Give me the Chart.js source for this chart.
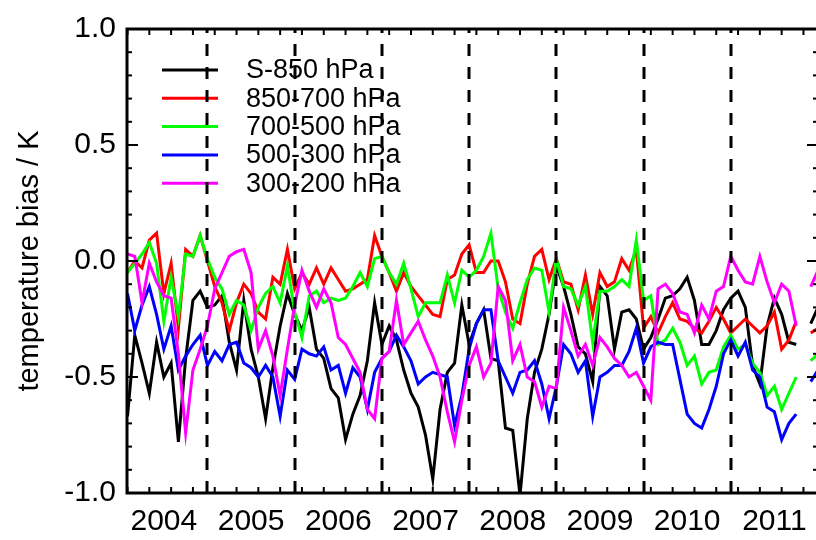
<!DOCTYPE html>
<html>
<head>
<meta charset="utf-8">
<script src="https://cdn.jsdelivr.net/npm/chart.js@4.4.1/dist/chart.umd.min.js"></script>
<style>
  html, body { margin: 0; padding: 0; overflow: hidden; background: #fff; }
  #wrap { width: 820px; height: 540px; }
</style>
</head>
<body>
<div id="wrap"><canvas id="bias-chart" width="820" height="540"></canvas></div>
<script>
// monthly temperature bias, one value per month from early 2004 (null = missing month)
const seriesLabels = ['S-850 hPa', '850-700 hPa', '700-500 hPa', '500-300 hPa', '300-200 hPa'];
const seriesColors = ['#000000', '#ff0000', '#00ff00', '#0000ff', '#ff00ff'];
const yearLabels = ['2004', '2005', '2006', '2007', '2008', '2009', '2010', '2011'];
const yearBreaks = [2005, 2006, 2007, 2008, 2009, 2010, 2011];
const yTickValues = [-1.0, -0.5, 0.0, 0.5, 1.0];

const sfc850 = [
  -0.67, -0.32, -0.44, -0.57, -0.35, -0.50, -0.44, -0.78, -0.42, -0.17,
  -0.13, -0.20, -0.19, -0.15, -0.35, -0.47, -0.17, -0.38, -0.50, -0.68,
  -0.46, -0.28, -0.14, -0.23, -0.30, -0.20, -0.38, -0.42, -0.55, -0.59,
  -0.77, -0.66, -0.58, -0.43, -0.18, -0.36, -0.28, -0.34, -0.47, -0.57,
  -0.63, -0.75, -0.94, -0.64, -0.48, -0.44, -0.19, -0.36, -0.27, -0.21,
  -0.42, -0.43, -0.72, -0.73, -1.01, -0.68, -0.48, -0.38, -0.23, -0.02,
  -0.11, -0.23, -0.37, -0.40, -0.52, -0.11, -0.15, -0.38, -0.22, -0.21,
  -0.25, -0.38, -0.33, -0.25, -0.16, -0.15, -0.12, -0.07, -0.17, -0.36,
  -0.36, -0.30, -0.21, -0.16, -0.13, -0.20, -0.45, -0.53, -0.28, -0.16,
  -0.23, -0.35, -0.36, null, -0.27, -0.20
];
const p850to700 = [
  -0.05, 0.00, -0.03, 0.09, 0.12, -0.14, -0.01, -0.29, 0.05, 0.02,
  0.11, 0.00, -0.11, -0.18, -0.30, -0.18, -0.10, -0.14, -0.22, -0.25,
  -0.07, -0.10, 0.05, -0.12, -0.05, -0.10, -0.03, -0.10, -0.03, -0.08,
  -0.13, -0.12, -0.10, -0.08, 0.11, 0.02, -0.05, -0.13, -0.05, -0.11,
  -0.15, -0.19, -0.23, -0.24, -0.08, -0.06, 0.03, 0.07, -0.05, -0.05,
  0.00, 0.00, -0.09, -0.25, -0.27, -0.10, 0.02, 0.05, -0.08, 0.01,
  -0.09, -0.10, -0.21, -0.06, -0.23, -0.05, -0.11, -0.09, 0.01, -0.04,
  0.05, -0.29, -0.24, -0.31, -0.24, -0.18, -0.25, -0.26, -0.29, -0.31,
  -0.26, -0.20, -0.25, -0.31, -0.28, -0.25, -0.28, -0.31, -0.28, -0.22,
  -0.38, -0.34, -0.26, null, -0.31, -0.29
];
const p700to500 = [
  -0.05, -0.01, 0.03, 0.08, -0.01, -0.26, -0.07, -0.24, 0.03, 0.02,
  0.11, 0.01, -0.07, -0.12, -0.23, -0.17, -0.19, -0.30, -0.20, -0.14,
  -0.11, -0.18, -0.02, -0.22, -0.33, -0.15, -0.13, -0.18, -0.16, -0.17,
  -0.16, -0.11, -0.05, -0.11, 0.01, 0.02, -0.05, -0.10, -0.01, -0.12,
  -0.24, -0.18, -0.18, -0.18, -0.06, -0.18, -0.04, -0.07, -0.04, 0.02,
  0.12, -0.12, -0.22, -0.29, -0.18, -0.08, -0.03, -0.04, -0.22, 0.01,
  -0.11, -0.12, -0.19, -0.11, -0.35, -0.13, -0.13, -0.11, -0.08, -0.11,
  0.09, -0.17, -0.15, -0.36, -0.34, -0.29, -0.35, -0.45, -0.41, -0.53,
  -0.48, -0.47, -0.37, -0.32, -0.38, -0.36, -0.44, -0.48, -0.58, -0.54,
  -0.64, -0.57, -0.50, null, -0.43, -0.40
];
const p500to300 = [
  -0.14, -0.30, -0.19, -0.11, -0.23, -0.38, -0.28, -0.47, -0.41, -0.36,
  -0.32, -0.45, -0.39, -0.43, -0.36, -0.35, -0.44, -0.46, -0.50, -0.45,
  -0.50, -0.67, -0.47, -0.51, -0.38, -0.40, -0.41, -0.37, -0.47, -0.45,
  -0.57, -0.46, -0.50, -0.64, -0.48, -0.42, -0.39, -0.32, -0.37, -0.43,
  -0.53, -0.50, -0.48, -0.49, -0.50, -0.71, -0.58, -0.38, -0.27, -0.21,
  -0.21, -0.43, -0.50, -0.57, -0.48, -0.47, -0.43, -0.53, -0.68, -0.54,
  -0.36, -0.40, -0.48, -0.43, -0.67, -0.50, -0.48, -0.45, -0.45, -0.39,
  -0.29, -0.44, -0.37, -0.35, -0.36, -0.36, -0.51, -0.66, -0.70, -0.72,
  -0.64, -0.54, -0.40, -0.34, -0.41, -0.35, -0.47, -0.50, -0.63, -0.65,
  -0.77, -0.70, -0.66, null, -0.52, -0.47
];
const p300to200 = [
  0.03, 0.02, -0.18, -0.01, -0.09, -0.15, -0.16, -0.40, -0.74, -0.47,
  -0.38, -0.28, -0.12, -0.05, 0.02, 0.04, 0.05, -0.05, -0.38, -0.30,
  -0.41, -0.58, -0.38, -0.19, -0.04, -0.13, -0.20, -0.12, -0.18, -0.33,
  -0.36, -0.42, -0.48, -0.64, -0.68, -0.42, -0.39, -0.17, -0.36, -0.31,
  -0.26, -0.34, -0.41, -0.50, -0.65, -0.78, -0.60, -0.45, -0.37, -0.50,
  -0.44, -0.11, -0.17, -0.43, -0.36, -0.50, -0.52, -0.63, -0.54, -0.55,
  -0.20, -0.30, -0.41, -0.36, -0.45, -0.33, -0.37, -0.42, -0.45, -0.50,
  -0.48, -0.54, -0.60, -0.12, -0.10, -0.14, -0.22, -0.23, -0.31, -0.19,
  -0.25, -0.13, -0.11, 0.02, -0.04, -0.09, -0.10, 0.02, -0.09, -0.18,
  -0.10, -0.13, -0.28, null, -0.11, -0.04
];

// decimal-year position of each month
const months = sfc850.map((_, i) => 2004 + (i + 1) / 12);
const allSeries = [sfc850, p850to700, p700to500, p500to300, p300to200];

const FONT = '"Liberation Sans", Arial, Helvetica, sans-serif';

const framePlugin = {
    id: 'frame',
    afterDatasetsDraw(chart) {
        const { ctx, chartArea: a, scales: { x, y } } = chart;
        ctx.save();

        // legend inside the plot, no box
        ctx.font = '27px ' + FONT;
        ctx.textBaseline = 'middle';
        ctx.textAlign = 'left';
        chart.data.datasets.forEach((ds, i) => {
            const ly = a.top + 41 + i * 28.3;
            ctx.strokeStyle = ds.borderColor;
            ctx.lineWidth = 3;
            ctx.beginPath();
            ctx.moveTo(162, ly);
            ctx.lineTo(218, ly);
            ctx.stroke();
            ctx.fillStyle = '#000';
            ctx.fillText(ds.label, 246, ly + 1);
        });

        // dashed year boundaries
        ctx.strokeStyle = '#000';
        ctx.lineWidth = 3;
        ctx.setLineDash([12, 11]);
        yearBreaks.forEach(v => {
            const px = Math.round(x.getPixelForValue(v));
            ctx.beginPath();
            ctx.moveTo(px, a.bottom);
            ctx.lineTo(px, a.top);
            ctx.stroke();
        });
        ctx.setLineDash([]);

        // axis box
        ctx.lineWidth = 3;
        ctx.strokeRect(a.left, a.top, a.right - a.left, a.bottom - a.top);

        // inward ticks
        ctx.lineWidth = 2;
        const tick = (x0, y0, x1, y1) => {
            ctx.beginPath();
            ctx.moveTo(x0, y0);
            ctx.lineTo(x1, y1);
            ctx.stroke();
        };
        for (let i = -10; i <= 10; i++) {
            const py = y.getPixelForValue(i / 10);
            const len = i % 5 === 0 ? 11 : 5;
            tick(a.left, py, a.left + len, py);
            tick(a.right, py, a.right - len, py);
        }
        for (let m = 1; m < 96; m += 3) {
            const px = x.getPixelForValue(2004 + m / 12);
            if (px < a.left || px > a.right) continue;
            tick(px, a.bottom, px, a.bottom - 6);
            tick(px, a.top, px, a.top + 6);
        }
        ctx.restore();
    }
};

new Chart(document.querySelector('#bias-chart').getContext('2d'), {
    type: 'line',
    data: {
        labels: months,
        datasets: allSeries.map((values, i) => ({
            label: seriesLabels[i],
            data: values.map((v, j) => ({ x: months[j], y: v })),
            borderColor: seriesColors[i],
            backgroundColor: seriesColors[i],
            borderWidth: 3,
            pointRadius: 0,
            tension: 0,
            spanGaps: false,
            order: 4 - i,
        }))
    },
    options: {
        responsive: false,
        animation: false,
        layout: { padding: { top: 15, right: 2, left: 0, bottom: 0 } },
        plugins: {
            legend: { display: false },
            tooltip: { enabled: false },
        },
        scales: {
            x: {
                type: 'linear',
                min: 2004 + 0.93 / 12,
                max: 2012.0,
                grid: { display: false, drawTicks: false },
                border: { display: false },
                afterBuildTicks: scale => {
                    scale.ticks = yearLabels.map(l => ({ value: Number(l) + 0.5 }));
                },
                afterFit: scale => { scale.height = 47; },
                ticks: {
                    autoSkip: false,
                    maxRotation: 0,
                    padding: 11,
                    color: '#000',
                    font: { family: FONT, size: 30 },
                    callback: v => String(Math.floor(v)),
                },
            },
            y: {
                min: -1.0,
                max: 1.0,
                grid: { display: false, drawTicks: false },
                border: { display: false },
                afterBuildTicks: scale => {
                    scale.ticks = yTickValues.map(v => ({ value: v }));
                },
                afterFit: scale => { scale.width = 127; },
                ticks: {
                    padding: 11,
                    color: '#000',
                    font: { family: FONT, size: 30 },
                    callback: v => v.toFixed(1),
                },
                title: {
                    display: true,
                    text: 'temperature bias / K',
                    color: '#000',
                    font: { family: FONT, size: 29 },
                    padding: { top: 13, bottom: 0 },
                },
            },
        },
    },
    plugins: [framePlugin],
});
</script>
</body>
</html>
